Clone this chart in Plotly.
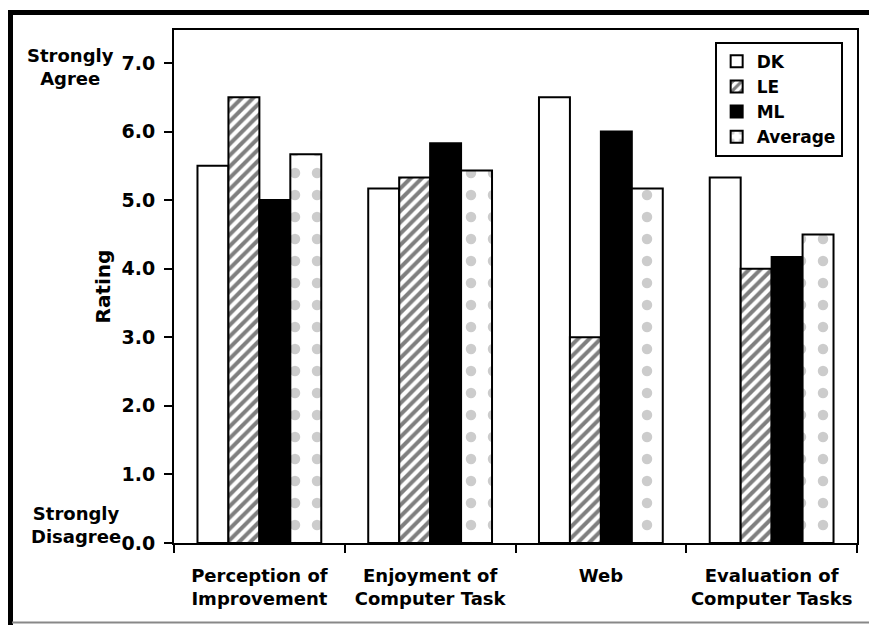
import plotly.graph_objects as go

categories = ["Perception of<br>Improvement", "Enjoyment of<br>Computer Task", "Web", "Evaluation of<br>Computer Tasks"]
series_names = ["DK", "LE", "ML", "Average"]
dk = [5.5, 5.17, 6.5, 5.33]
le = [6.5, 5.33, 3.0, 4.0]
ml = [5.0, 5.83, 6.0, 4.17]
avg = [5.67, 5.43, 5.17, 4.5]
y_ticks = [0, 1, 2, 3, 4, 5, 6, 7]

FONT = "DejaVu Sans, Arial, sans-serif"

styles = [
    dict(color="white", pattern=dict(shape="")),
    dict(color="white", pattern=dict(shape="/", fgcolor="black", bgcolor="white", size=8, solidity=0.5)),
    dict(color="black", pattern=dict(shape="")),
    dict(color="white", pattern=dict(shape=".", fgcolor="#9a9a9a", bgcolor="white", size=22, solidity=0.18)),
]

fig = go.Figure()
for name, vals, st in zip(series_names, [dk, le, ml, avg], styles):
    fig.add_trace(go.Bar(
        x=categories, y=vals, name=name,
        marker=dict(color=st["color"], pattern=st["pattern"], line=dict(color="black", width=2)),
    ))

fig.update_layout(
    width=869, height=625,
    margin=dict(l=174, r=12, t=30, b=82, autoexpand=False),
    paper_bgcolor="white", plot_bgcolor="white",
    barmode="group", bargap=0.275, bargroupgap=0,
    font=dict(family=FONT, size=18, color="black", weight="bold"),
    showlegend=True,
    legend=dict(
        x=0.979, y=0.977, xanchor="right", yanchor="top",
        bordercolor="black", borderwidth=2, bgcolor="white",
        font=dict(family=FONT, size=17, color="black", weight="bold"),
        tracegroupgap=0, itemwidth=30,
    ),
    xaxis=dict(
        showline=True, linecolor="black", linewidth=2, mirror=True,
        ticks="outside", tickson="boundaries", ticklen=8, tickwidth=2, tickcolor="black",
        tickfont=dict(family=FONT, size=18, color="black", weight="bold"),
        tickangle=0, automargin=False,
        ticklabelstandoff=15,
        showgrid=False,
    ),
    yaxis=dict(
        range=[0, 7.48],
        tickvals=y_ticks, tickformat=".1f",
        showline=True, linecolor="black", linewidth=2, mirror=True,
        ticks="outside", ticklen=8, tickwidth=2, tickcolor="black",
        tickfont=dict(family=FONT, size=19, color="black", weight="bold"),
        ticklabelstandoff=5, automargin=False,
        showgrid=False, zeroline=False,
        title=dict(text="Rating", standoff=6, font=dict(family=FONT, size=20, color="black", weight="bold")),
    ),
)

fig.add_annotation(xref="paper", yref="paper", x=(70 - 174) / 683.0, y=(543 - 67) / 513.0,
                   text="Strongly<br>Agree", showarrow=False, xanchor="center", yanchor="middle",
                   font=dict(family=FONT, size=18, color="black", weight="bold"), align="center")
fig.add_annotation(xref="paper", yref="paper", x=(76 - 174) / 683.0, y=(543 - 525) / 513.0,
                   text="Strongly<br>Disagree", showarrow=False, xanchor="center", yanchor="middle",
                   font=dict(family=FONT, size=18, color="black", weight="bold"), align="center")

# outer frame
fig.add_shape(type="line", xref="paper", yref="paper", x0=(8 - 174) / 683.0, x1=(869 - 174) / 683.0,
              y0=(543 - 12.5) / 513.0, y1=(543 - 12.5) / 513.0, line=dict(color="black", width=5))
fig.add_shape(type="line", xref="paper", yref="paper", x0=(10.5 - 174) / 683.0, x1=(10.5 - 174) / 683.0,
              y0=(543 - 10) / 513.0, y1=(543 - 625) / 513.0, line=dict(color="black", width=5))
fig.add_shape(type="line", xref="paper", yref="paper", x0=(12 - 174) / 683.0, x1=(869 - 174) / 683.0,
              y0=(543 - 622.5) / 513.0, y1=(543 - 622.5) / 513.0, line=dict(color="#888888", width=2))

fig.write_html("out.html", config={"displayModeBar": False},
               post_script="document.body.style.margin='0';")
